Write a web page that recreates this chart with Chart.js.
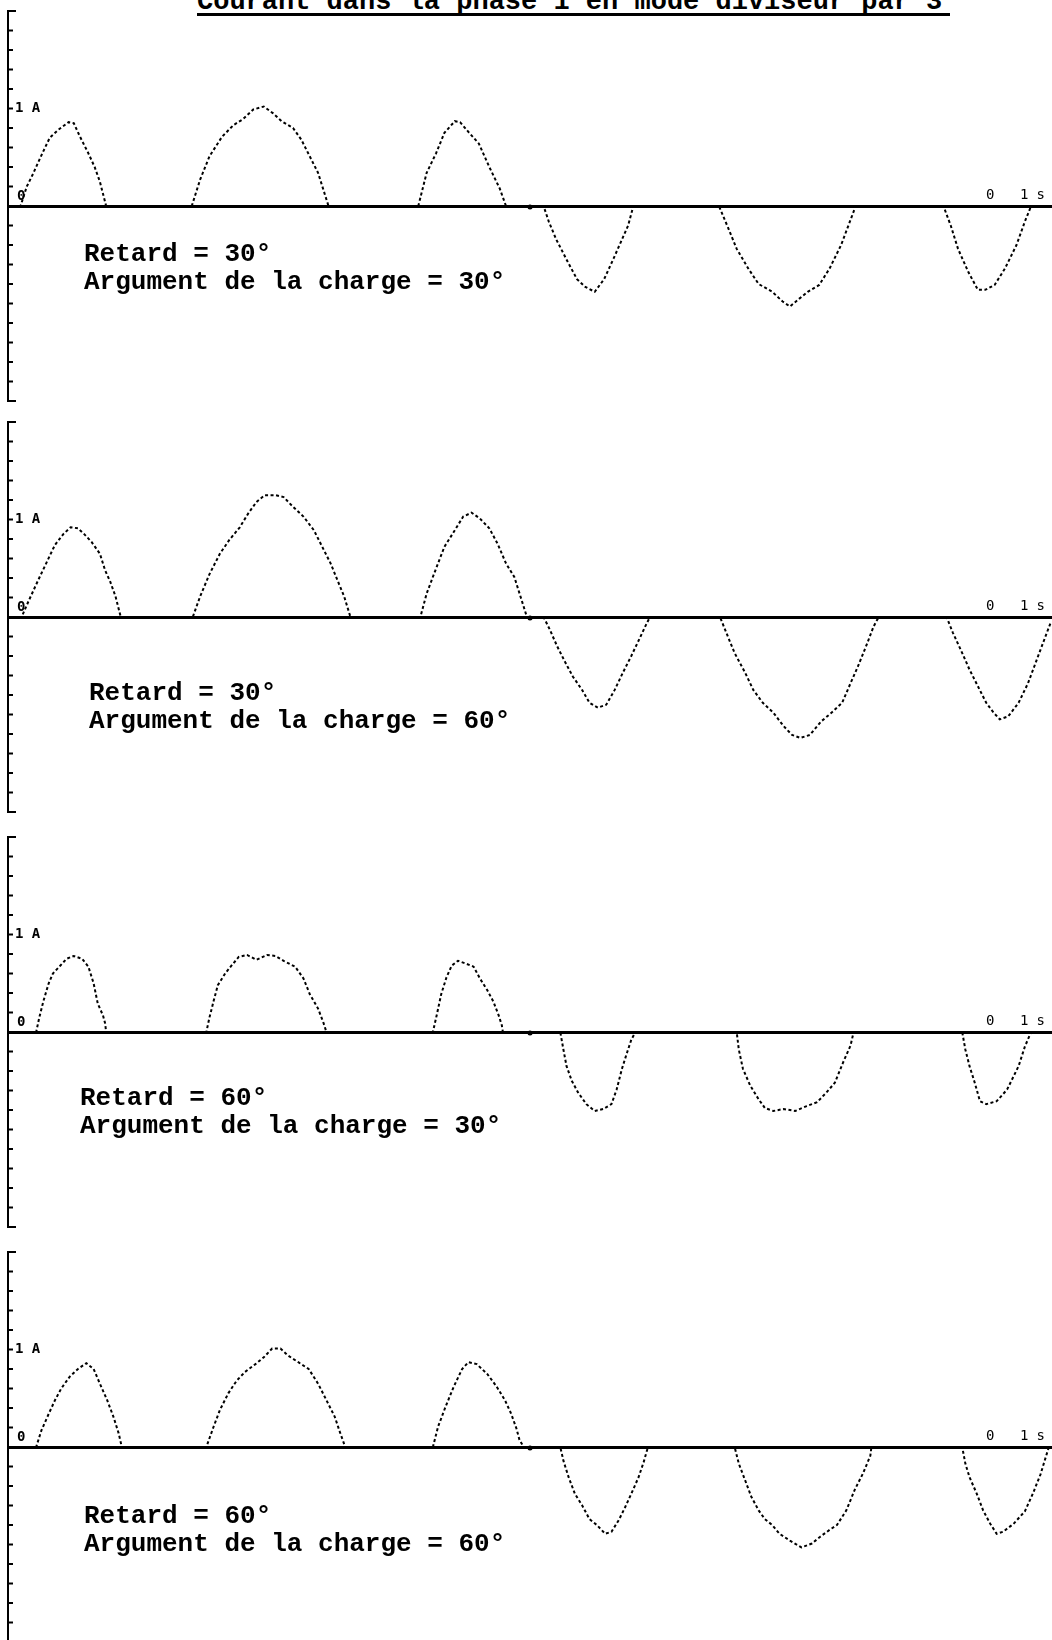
<!DOCTYPE html>
<html>
<head>
<meta charset="utf-8">
<script src="https://cdn.jsdelivr.net/npm/chart.js@4.4.1/dist/chart.umd.min.js"></script>
<style>
  html, body { margin: 0; padding: 0; background: #fff; }
  body { width: 1052px; height: 1640px; overflow: hidden; position: relative; }
  canvas { position: absolute; left: 0; }
  .title { position: absolute; left: 197px; top: -11px; font: bold 27px "Liberation Mono", monospace; line-height: 27px; white-space: pre; color: #000; }
  .underline { position: absolute; left: 197px; top: 13px; width: 753px; border-top: 3px solid #000; }
  .note { position: absolute; font: bold 26px "Liberation Mono", monospace; line-height: 28px; white-space: pre; color: #000; }
</style>
</head>
<body>
<div class="title">Courant dans la phase 1 en mode diviseur par 3</div>
<div class="underline"></div>
<canvas id="p1" width="1052" height="400"></canvas>
<canvas id="p2" width="1052" height="400"></canvas>
<canvas id="p3" width="1052" height="400"></canvas>
<canvas id="p4" width="1052" height="400"></canvas>
<script>
// time in ms (full sweep 0 .. 0.1 s), current in A
const timeP1 = [0, 1.2, 1.8, 2.4, 3.2, 4.0, 4.8, 5.8, 6.3, 6.9, 7.7, 8.3, 8.8, 9.4,
  17.6, 18.4, 19.3, 20.5, 21.6, 22.5, 23.5, 24.5, 25.4, 26.2, 27.3, 28.1, 28.9, 29.7, 30.7,
  39.3, 40.1, 41.0, 41.8, 42.8, 43.3, 44.1, 45.1, 46.1, 47.1, 47.7,
  51.3, 51.8, 52.5, 53.6, 54.5, 55.3, 56.2, 57.1, 58.0, 58.7, 59.4, 59.9,
  68.1, 69.0, 69.8, 70.9, 71.9, 73.2, 74.2, 74.9, 75.8, 76.6, 77.7, 78.7, 79.8, 80.5, 81.2,
  89.6, 90.3, 91.0, 92.0, 92.9, 93.6, 94.5, 95.5, 96.6, 97.4, 98.0, 100];
const currentP1 = [0, 0, 0.20, 0.33, 0.52, 0.70, 0.78, 0.86, 0.85, 0.71, 0.54, 0.40, 0.25, 0,
  0, 0.27, 0.51, 0.71, 0.83, 0.89, 0.99, 1.02, 0.95, 0.87, 0.80, 0.68, 0.51, 0.34, 0,
  0, 0.34, 0.54, 0.75, 0.87, 0.86, 0.76, 0.64, 0.40, 0.18, 0,
  0, -0.16, -0.34, -0.57, -0.75, -0.83, -0.88, -0.75, -0.54, -0.37, -0.20, 0,
  0, -0.23, -0.44, -0.64, -0.80, -0.88, -0.98, -1.03, -0.95, -0.88, -0.81, -0.64, -0.40, -0.20, 0,
  0, -0.20, -0.44, -0.68, -0.86, -0.86, -0.81, -0.64, -0.40, -0.16, 0, 0];

const timeP2 = [0, 1.3, 2.0, 2.9, 3.7, 4.5, 5.3, 6.0, 6.7, 7.3, 8.0, 8.8, 9.3, 9.8, 10.3, 10.8,
  17.7, 18.4, 19.3, 20.3, 21.2, 22.2, 23.0, 23.8, 24.6, 25.6, 26.4, 27.3, 28.3, 29.3, 30.1, 30.9, 31.7, 32.2, 32.8,
  39.5, 40.1, 40.8, 41.8, 42.8, 43.6, 44.4, 45.2, 46.1, 46.9, 47.7, 48.5, 49.0, 49.5, 49.7,
  51.3, 51.9, 52.6, 53.4, 54.1, 55.0, 55.7, 56.5, 57.3, 58.1, 58.9, 59.7, 60.5, 61.2, 61.5,
  68.2, 68.8, 69.6, 70.6, 71.4, 72.3, 73.3, 74.3, 75.1, 75.9, 76.8, 77.9, 78.9, 79.9, 80.7, 81.4, 82.3, 82.9, 83.4,
  89.9, 90.5, 91.4, 92.1, 92.9, 93.7, 94.4, 95.0, 95.8, 96.8, 97.7, 98.5, 99.3, 99.9];
const currentP2 = [0, 0, 0.17, 0.38, 0.56, 0.74, 0.85, 0.92, 0.91, 0.85, 0.77, 0.65, 0.48, 0.36, 0.21, 0,
  0, 0.21, 0.44, 0.65, 0.79, 0.92, 1.06, 1.18, 1.25, 1.25, 1.23, 1.13, 1.03, 0.89, 0.72, 0.55, 0.34, 0.21, 0,
  0, 0.24, 0.44, 0.72, 0.89, 1.03, 1.07, 1.01, 0.91, 0.75, 0.55, 0.41, 0.24, 0.07, 0,
  0, -0.13, -0.30, -0.47, -0.61, -0.75, -0.88, -0.93, -0.90, -0.75, -0.57, -0.40, -0.22, -0.06, 0,
  0, -0.16, -0.37, -0.57, -0.75, -0.88, -0.98, -1.12, -1.21, -1.24, -1.21, -1.07, -0.98, -0.88, -0.68, -0.51, -0.27, -0.10, 0,
  0, -0.16, -0.37, -0.54, -0.71, -0.88, -0.98, -1.05, -1.02, -0.88, -0.68, -0.45, -0.22, -0.05];

const timeP3 = [0, 2.7, 3.0, 3.4, 3.9, 4.3, 5.0, 5.6, 6.3, 7.1, 7.7, 8.2, 8.6, 9.1, 9.3, 9.4,
  19.0, 19.3, 19.7, 20.1, 20.8, 21.4, 22.1, 22.9, 23.8, 24.8, 25.6, 26.4, 27.5, 28.3, 28.9, 29.7, 30.2, 30.5,
  40.7, 41.1, 41.5, 42.0, 42.5, 43.1, 43.9, 44.6, 45.2, 45.9, 46.5, 47.0, 47.3, 47.4,
  52.9, 53.2, 53.5, 54.0, 54.6, 55.4, 56.2, 57.0, 57.8, 58.3, 58.8, 59.3, 59.7, 60.1,
  69.8, 70.0, 70.4, 71.1, 71.9, 72.5, 73.3, 74.3, 75.4, 76.5, 77.5, 78.4, 79.2, 80.0, 80.7, 81.0,
  91.4, 91.7, 92.1, 92.6, 93.1, 93.7, 94.7, 95.7, 96.8, 97.4, 98.0, 100];
const currentP3 = [0, 0, 0.15, 0.32, 0.50, 0.60, 0.68, 0.75, 0.78, 0.75, 0.67, 0.50, 0.29, 0.17, 0.09, 0,
  0, 0.15, 0.32, 0.48, 0.60, 0.68, 0.77, 0.79, 0.74, 0.79, 0.78, 0.73, 0.67, 0.55, 0.39, 0.24, 0.10, 0,
  0, 0.19, 0.39, 0.56, 0.68, 0.73, 0.70, 0.67, 0.55, 0.43, 0.31, 0.17, 0.07, 0,
  0, -0.18, -0.35, -0.50, -0.62, -0.74, -0.81, -0.79, -0.74, -0.59, -0.38, -0.21, -0.08, 0,
  0, -0.18, -0.38, -0.55, -0.69, -0.78, -0.81, -0.79, -0.81, -0.76, -0.72, -0.62, -0.52, -0.31, -0.14, 0,
  0, -0.18, -0.35, -0.52, -0.71, -0.74, -0.71, -0.59, -0.35, -0.15, 0, 0];

const timeP4 = [0, 2.7, 3.2, 3.9, 4.5, 5.1, 5.9, 6.7, 7.5, 8.2, 8.8, 9.5, 10.1, 10.6, 10.9,
  19.0, 19.7, 20.3, 21.1, 21.9, 22.7, 23.7, 24.5, 25.3, 26.1, 26.8, 27.8, 28.8, 29.7, 30.5, 31.3, 31.8, 32.3,
  40.7, 41.2, 41.9, 42.7, 43.5, 44.1, 44.9, 45.9, 46.8, 47.6, 48.2, 48.7, 49.0, 49.4,
  52.9, 53.2, 53.7, 54.3, 55.0, 55.7, 56.4, 57.2, 57.8, 58.5, 59.1, 59.7, 60.4, 60.9, 61.3,
  69.6, 70.0, 70.6, 71.2, 71.9, 72.5, 73.2, 73.9, 74.9, 76.0, 77.0, 77.8, 78.7, 79.4, 80.3, 81.1, 81.9, 82.6, 82.7,
  91.4, 91.7, 92.1, 92.8, 93.4, 94.1, 94.7, 95.3, 96.3, 97.4, 98.2, 98.9, 99.7];
const currentP4 = [0, 0, 0.17, 0.34, 0.48, 0.60, 0.72, 0.80, 0.86, 0.80, 0.65, 0.48, 0.31, 0.14, 0,
  0, 0.21, 0.38, 0.55, 0.68, 0.77, 0.85, 0.92, 1.01, 1.01, 0.94, 0.87, 0.80, 0.65, 0.48, 0.31, 0.15, 0,
  0, 0.21, 0.41, 0.62, 0.80, 0.87, 0.85, 0.75, 0.62, 0.48, 0.34, 0.19, 0.07, 0,
  0, -0.14, -0.31, -0.48, -0.60, -0.74, -0.80, -0.89, -0.87, -0.75, -0.62, -0.48, -0.31, -0.15, 0,
  0, -0.17, -0.34, -0.51, -0.65, -0.74, -0.80, -0.89, -0.96, -1.03, -0.99, -0.92, -0.85, -0.80, -0.65, -0.44, -0.27, -0.09, 0,
  0, -0.17, -0.31, -0.48, -0.65, -0.79, -0.89, -0.87, -0.79, -0.66, -0.47, -0.28, 0];

const retards = [30, 30, 60, 60];        // degrees
const loadAngles = [30, 60, 30, 60];     // argument de la charge, degrees
const yRange = [-2, 2];                  // A
const yStep = 0.2;
const xRange = [0, 100];                 // ms
const xMarker = 50;                      // mid-sweep dot

// layout only
const panelTop = [6, 417, 832, 1247];
const noteBox = [[84, 240], [89, 679], [80, 1084], [84, 1502]];

const frameMarks = {
    id: 'frameMarks',
    afterDraw(chart) {
        const { ctx, scales: { x, y } } = chart;
        const left = x.left;
        const zeroY = y.getPixelForValue(0);
        ctx.save();
        ctx.strokeStyle = '#000';
        ctx.lineWidth = 2;
        y.ticks.forEach(t => {
            const py = y.getPixelForValue(t.value);
            ctx.beginPath();
            ctx.moveTo(left, py);
            ctx.lineTo(left + 5, py);
            ctx.stroke();
        });
        [y.min, y.max].forEach(v => {
            const py = y.getPixelForValue(v);
            ctx.beginPath();
            ctx.moveTo(left - 1, py);
            ctx.lineTo(left + 8, py);
            ctx.stroke();
        });
        ctx.fillStyle = '#000';
        ctx.font = 'bold 14px "DejaVu Sans Mono"';
        ctx.textBaseline = 'middle';
        ctx.textAlign = 'left';
        ctx.fillText('1 A', left + 7, y.getPixelForValue(1));
        ctx.fillText('0', left + 9, zeroY - 10);
        ctx.font = '14px "DejaVu Sans Mono"';
        ctx.fillText('0', x.right - 66, zeroY - 11);
        ctx.letterSpacing = '8px';
        ctx.fillText('1s', x.right - 32, zeroY - 11);
        ctx.letterSpacing = '0px';
        ctx.beginPath();
        ctx.arc(x.getPixelForValue(xMarker), zeroY + 1, 2.5, 0, Math.PI * 2);
        ctx.fill();
        ctx.restore();
    }
};

function makePanel(canvasId, times, currents) {
    const canvas = document.getElementById(canvasId);
    return new Chart(canvas, {
        type: 'line',
        data: {
            datasets: [{
                data: times.map((t, k) => ({ x: t, y: currents[k] })),
                borderColor: '#000',
                borderWidth: 2,
                borderDash: [3, 2.5],
                pointRadius: 0,
                tension: 0,
                fill: false
            }]
        },
        options: {
            responsive: false,
            animation: false,
            events: [],
            layout: { padding: { left: 8, right: 0, top: 5, bottom: 5 } },
            plugins: { legend: { display: false }, tooltip: { enabled: false } },
            scales: {
                x: {
                    type: 'linear',
                    min: xRange[0],
                    max: xRange[1],
                    position: { y: 0 },
                    grid: { display: false, drawTicks: false },
                    ticks: { display: false },
                    border: { display: true, color: '#000', width: 3 }
                },
                y: {
                    min: yRange[0],
                    max: yRange[1],
                    grid: { display: false, drawTicks: false },
                    ticks: { display: false, stepSize: yStep, maxTicksLimit: 30 },
                    border: { display: true, color: '#000', width: 2 }
                }
            }
        },
        plugins: [frameMarks]
    });
}

const panels = [
    ['p1', timeP1, currentP1],
    ['p2', timeP2, currentP2],
    ['p3', timeP3, currentP3],
    ['p4', timeP4, currentP4]
];

panels.forEach(([id, t, i], k) => {
    document.getElementById(id).style.top = panelTop[k] + 'px';
    makePanel(id, t, i);
    const note = document.createElement('div');
    note.className = 'note';
    note.style.left = noteBox[k][0] + 'px';
    note.style.top = noteBox[k][1] + 'px';
    note.textContent = 'Retard = ' + retards[k] + '°\nArgument de la charge = ' + loadAngles[k] + '°';
    document.body.appendChild(note);
});
</script>
</body>
</html>
